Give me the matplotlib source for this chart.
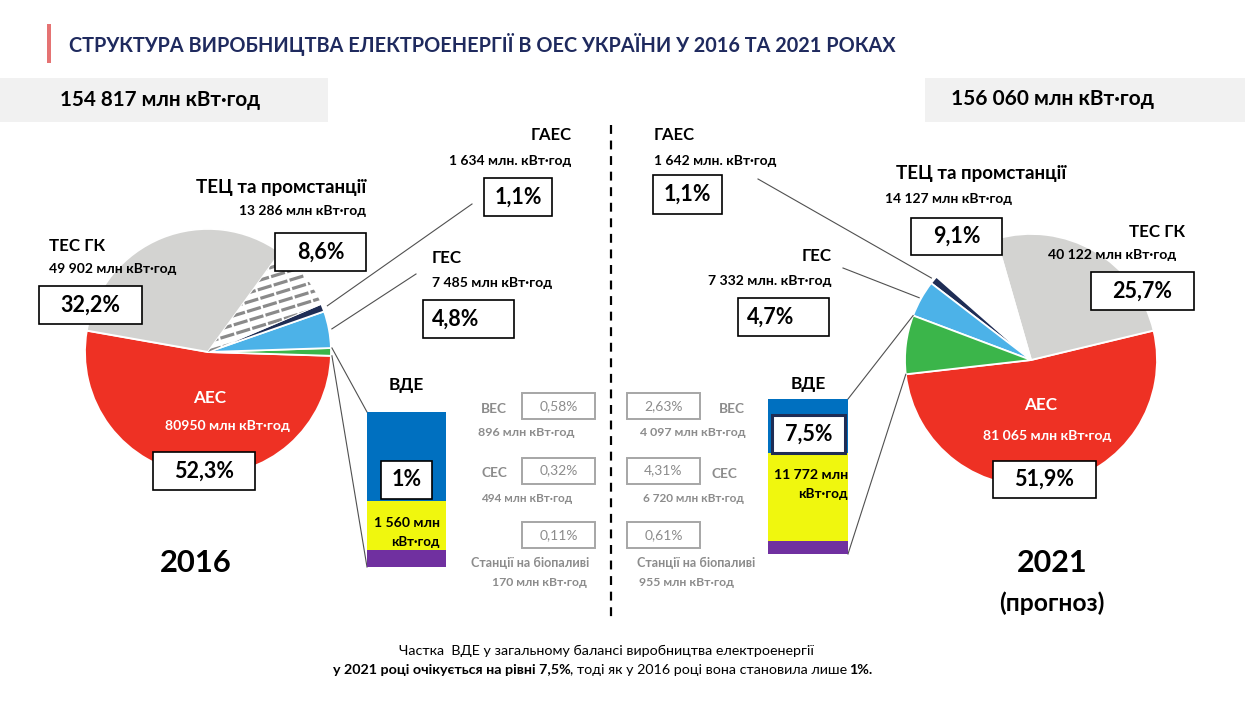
import numpy as np
import matplotlib
matplotlib.use('Agg')
import matplotlib.pyplot as plt
from matplotlib.patches import Rectangle
from matplotlib import font_manager as fm
from matplotlib.ft2font import FT2Font

W, H = 1245, 701

# ---------------- data ----------------
categories = ['АЕС', 'ТЕС ГК', 'ТЕЦ та промстанції', 'ГАЕС', 'ГЕС', 'ВДЕ']
gen_2016 = [80950, 49902, 13286, 1634, 7485, 1560]
gen_2021 = [81065, 40122, 14127, 1642, 7332, 11772]
share_2016 = ['52,3%', '32,2%', '8,6%', '1,1%', '4,8%', '1%']
share_2021 = ['51,9%', '25,7%', '9,1%', '1,1%', '4,7%', '7,5%']
value_lbl_2016 = ['80950 млн кВт·год', '49 902 млн кВт·год', '13 286 млн кВт·год',
                  '1 634 млн. кВт·год', '7 485 млн кВт·год', '1 560 млн', 'кВт·год']
value_lbl_2021 = ['81 065 млн кВт·год', '40 122 млн кВт·год', '14 127 млн кВт·год',
                  '1 642 млн. кВт·год', '7 332 млн. кВт·год', '11 772 млн', 'кВт·год']
total_2016 = '154 817 млн кВт·год'
total_2021 = '156 060 млн кВт·год'
res_types = ['ВЕС', 'СЕС', 'Станції на біопаливі']
res_2016 = [896, 494, 170]
res_2021 = [4097, 6720, 955]
res_share_2016 = ['0,58%', '0,32%', '0,11%']
res_share_2021 = ['2,63%', '4,31%', '0,61%']
res_lbl_2016 = ['896 млн кВт·год', '494 млн кВт·год', '170 млн кВт·год']
res_lbl_2021 = ['4 097 млн кВт·год', '6 720 млн кВт·год', '955 млн кВт·год']
title = 'СТРУКТУРА ВИРОБНИЦТВА ЕЛЕКТРОЕНЕРГІЇ В ОЕС УКРАЇНИ У 2016 ТА 2021 РОКАХ'
note1 = 'Частка  ВДЕ у загальному балансі виробництва електроенергії'
note2 = ['у 2021 році очікується на рівні 7,5%', ', тоді як у 2016 році вона становила лише', '1%.']
note2_bold = [True, False, True]

# ---------------- style ----------------
cat_colors = ['#EE3124', '#D3D3D1', '#FFFFFF', '#1F2D55', '#4CB2E8', '#3BB54A']
res_colors = ['#0070C0', '#F0F70E', '#7030A0']
GRAY_T = '#8C8C8C'


def has_cyr(name):
    try:
        path = fm.findfont(fm.FontProperties(family=name, weight='bold'),
                           fallback_to_default=False)
        cm = FT2Font(path).get_charmap()
        return all(ord(ch) in cm for ch in 'ДЦїіє·')
    except Exception:
        return False


FONT = next((f for f in ['Lato', 'Roboto', 'Open Sans', 'Noto Sans', 'DejaVu Sans']
             if has_cyr(f)), 'DejaVu Sans')
plt.rcParams['font.family'] = [FONT, 'DejaVu Sans']

fig = plt.figure(figsize=(W / 100, H / 100), dpi=100)
ax = fig.add_axes([0, 0, 1, 1])
renderer = fig.canvas.get_renderer()


def T(x, y, s, size, width=None, ha='left', va='center', color='black',
      weight='bold', z=6):
    t = ax.text(x, H - y, s, fontsize=size, ha=ha, va=va, color=color,
                fontweight=weight, zorder=z)
    if width:
        w = t.get_window_extent(renderer).width
        f = max(0.8, min(1.22, width / w))
        t.set_fontsize(size * f)
    return t


def box(x0, y0, x1, y1, ec='black', lw=1.2, fc='white', z=5):
    ax.add_patch(Rectangle((x0, H - y1), x1 - x0, y1 - y0, fc=fc, ec=ec,
                           lw=lw, zorder=z))


# ---------------- header ----------------
ax.add_patch(Rectangle((46.5, H - 63), 4.5, 39, color='#E57373', lw=0))
T(69, 44, title, 14.5, width=826, color='#1F2A5E')
box(0, 78, 328, 122, ec='none', fc='#F1F1F1', z=1)
box(925, 78, 1245, 122, ec='none', fc='#F1F1F1', z=1)
T(60, 100, total_2016, 14, width=202)
T(951, 99, total_2021, 14, width=204)

# dashed separator
ax.plot([611, 611], [H - 125, H - 622], color='black', lw=1.6,
        linestyle=(0, (4, 3)), zorder=2)


def draw_pie(values, order, cx, cy, R, start, explode):
    vals = [values[i] for i in order]
    wedges, _ = ax.pie(vals, colors=[cat_colors[i] for i in order],
                       startangle=start, counterclock=True, radius=R,
                       center=(cx, H - cy), explode=[explode.get(i, 0) for i in order],
                       wedgeprops=dict(edgecolor='white', linewidth=1.3), frame=True)
    return {i: w for i, w in zip(order, wedges)}


def pt(w, ang, dr=0.0):
    a = np.deg2rad(ang)
    cx, cy = w.center
    return (cx + (w.r + dr) * np.cos(a), cy + (w.r + dr) * np.sin(a))


def leader(p, x, y):
    ax.plot([p[0], x], [p[1], H - y], color='#505050', lw=0.8, zorder=4)


# ---------------- 2016 pie ----------------
w16 = draw_pie(gen_2016, [0, 5, 4, 3, 2, 1], 208, 352, 123, 170, {0: 0.09, 1: 0.08})
# hatch stripes on ТЕЦ wedge
wt = w16[2]
ang = np.deg2rad(17)
d = np.array([np.cos(ang), np.sin(ang)])
nrm = np.array([-np.sin(ang), np.cos(ang)])
c0 = np.array(wt.center)
for k in np.arange(-140, 140, 8.8):
    p0 = c0 + nrm * k - d * 200
    p1 = c0 + nrm * k + d * 200
    ln, = ax.plot([p0[0], p1[0]], [p0[1], p1[1]], color='#8A8A8A', lw=2.3,
                  linestyle=(0, (4.5, 0.7)), solid_capstyle='butt', zorder=3)
    ln.set_clip_path(wt)

# leader lines 2016
wg = w16[3]
leader(pt(wg, (wg.theta1 + wg.theta2) / 2, 5), 472, 204)
wb = w16[4]
leader(pt(wb, (wb.theta1 + wb.theta2) / 2, 3), 416, 274)
wv = w16[5]
leader(pt(wv, wv.theta2, 1), 367, 412)
leader(pt(wv, wv.theta1, 1), 367, 567)

# ---------------- 2021 pie ----------------
w21 = draw_pie(gen_2021, [0, 1, 2, 3, 4, 5], 1031, 360, 126, 186.5, {0: 0.07, 1: 0.07})
wg = w21[3]
leader(pt(wg, (wg.theta1 + wg.theta2) / 2, 3), 758, 179)
wb = w21[4]
leader(pt(wb, (wb.theta1 + wb.theta2) / 2, 2), 843, 268)
wv = w21[5]
leader(pt(wv, wv.theta1, 0), 848, 399)
leader(pt(wv, wv.theta2, 0), 848, 554)

# ---------------- VDE stacked bars ----------------
BAR_H = 155


def draw_bar(vals, x0, width, ybottom):
    tot = sum(vals)
    bottom = H - ybottom
    for i in [2, 1, 0]:
        h = vals[i] / tot * BAR_H
        ax.bar(x0, h, width=width, bottom=bottom, align='edge',
               color=res_colors[i], lw=0, zorder=4)
        bottom += h


draw_bar(res_2016, 367, 79, 567)
draw_bar(res_2021, 768, 80, 554)

# ---------------- pie labels 2016 ----------------
NAME = 12.5
VAL = 9.5
PCT = 15.5
T(210, 398, categories[0], NAME, width=33, ha='center', color='white')
T(227.5, 426, value_lbl_2016[0], VAL, width=125, ha='center', color='white')
T(49, 246, categories[1], NAME, width=56)
T(49, 269, value_lbl_2016[1], VAL, width=127)
T(366, 187, categories[2], NAME, width=171, ha='right')
T(366, 211, value_lbl_2016[2], VAL, width=127, ha='right')
T(572, 135, categories[3], NAME, width=41, ha='right')
T(571, 161, value_lbl_2016[3], VAL, width=123, ha='right')
T(432, 258, categories[4], NAME, width=30)
T(432, 283, value_lbl_2016[4], VAL, width=120)
T(406, 385, categories[5], NAME + 1, width=35, ha='center')
T(440, 523, value_lbl_2016[5], 11, width=66, ha='right')
T(440, 542, value_lbl_2016[6], 11, width=48, ha='right')

boxes16 = {0: (153, 452, 255, 490), 1: (39, 286, 142, 324), 2: (275, 233, 366, 271),
           3: (484, 178, 552, 216), 4: (423, 300, 514, 338), 5: (381, 461, 432, 499)}
for i, (x0, y0, x1, y1) in boxes16.items():
    box(x0, y0, x1, y1)
    if i == 4:
        T(x0 + 9, (y0 + y1) / 2, share_2016[i], PCT)
    else:
        T((x0 + x1) / 2, (y0 + y1) / 2, share_2016[i], PCT, ha='center')

# ---------------- pie labels 2021 ----------------
T(1041, 405, categories[0], NAME, width=33, ha='center', color='white')
T(1047, 436, value_lbl_2021[0], VAL, width=128, ha='center', color='white')
T(1129, 232, categories[1], NAME, width=56)
T(1048, 255, value_lbl_2021[1], VAL, width=128)
T(896, 174, categories[2], NAME, width=171)
T(885, 199, value_lbl_2021[2], VAL, width=127)
T(654, 135, categories[3], NAME, width=41)
T(654, 161, value_lbl_2021[3], VAL, width=123)
T(832, 256, categories[4], NAME, width=30, ha='right')
T(832, 281, value_lbl_2021[4], VAL, width=124, ha='right')
T(808, 384, categories[5], NAME + 1, width=35, ha='center')
T(848, 475, value_lbl_2021[5], 11, width=75, ha='right')
T(848, 494, value_lbl_2021[6], 11, width=49, ha='right')

boxes21 = {0: (993, 461, 1096, 498), 1: (1091, 272, 1194, 310), 2: (911, 218, 1002, 255),
           3: (653, 175, 722, 214), 4: (738, 298, 829, 336), 5: (772, 415, 845, 453)}
for i, (x0, y0, x1, y1) in boxes21.items():
    if i == 5:
        box(x0, y0, x1, y1, ec='#1F2D55', lw=2.2)
    else:
        box(x0, y0, x1, y1)
    if i == 4:
        T(x0 + 9, (y0 + y1) / 2, share_2021[i], PCT)
    else:
        T((x0 + x1) / 2, (y0 + y1) / 2, share_2021[i], PCT, ha='center')

# ---------------- RES breakdown (middle) ----------------
MS = 9.2
rows_y = [406, 470.5, 535]
for j in range(3):
    by = rows_y[j]
    box(522, by - 13, 595, by + 13, ec='#A6A6A6', lw=1.4)
    T(558.5, by, res_share_2016[j], MS + 0.8, ha='center', color=GRAY_T, weight='normal')
    box(627, by - 13, 700, by + 13, ec='#A6A6A6', lw=1.4)
    T(663.5, by, res_share_2021[j], MS + 0.8, ha='center', color=GRAY_T, weight='normal')

T(481, 409, res_types[0], 9.8, color=GRAY_T)
T(478, 433, res_lbl_2016[0], MS, width=96, color=GRAY_T)
T(481, 473, res_types[1], 9.8, color=GRAY_T)
T(481, 499, res_lbl_2016[1], MS, width=91, color=GRAY_T)
T(471, 563, res_types[2], MS, width=119, color=GRAY_T)
T(587, 582, res_lbl_2016[2], MS, width=95, ha='right', color=GRAY_T)

T(719, 409, res_types[0], 9.8, color=GRAY_T)
T(640, 433, res_lbl_2021[0], MS, width=106, color=GRAY_T)
T(712, 474, res_types[1], 9.8, color=GRAY_T)
T(643, 499, res_lbl_2021[1], MS, width=100, color=GRAY_T)
T(637, 563, res_types[2], MS, width=119, color=GRAY_T)
T(639, 582, res_lbl_2021[2], MS, width=95, color=GRAY_T)

# ---------------- years ----------------
T(196, 563, '2016', 23, width=72, ha='center')
T(1052, 563, '2021', 23, width=71, ha='center')
T(1052, 603, '(прогноз)', 15, width=106, ha='center')

# ---------------- bottom note ----------------
T(606.5, 651, note1, 9.5, width=415, ha='center', weight='normal')
size = 9.6


def seg_w(s, bold, sz):
    t = ax.text(0, 0, s, fontsize=sz, fontweight='bold' if bold else 'normal')
    w = t.get_window_extent(renderer).width
    t.remove()
    return w


sp = seg_w('x x', False, size) - seg_w('xx', False, size)
ws = [seg_w(s, b, size) for s, b in zip(note2, note2_bold)]
total_w = sum(ws) + sp
f = max(0.85, min(1.15, 547 / total_w))
size *= f
sp *= f
ws = [w * f for w in ws]
x = 606.5 - (sum(ws) + sp) / 2
for k, (s, b) in enumerate(zip(note2, note2_bold)):
    T(x, 670, s, size, weight='bold' if b else 'normal')
    x += ws[k] - 3.5 + (sp if k == 1 else 0)

ax.set_xlim(0, W)
ax.set_ylim(0, H)
ax.set_aspect('auto')
ax.axis('off')
fig.savefig('out.png', dpi=100, facecolor='white')
